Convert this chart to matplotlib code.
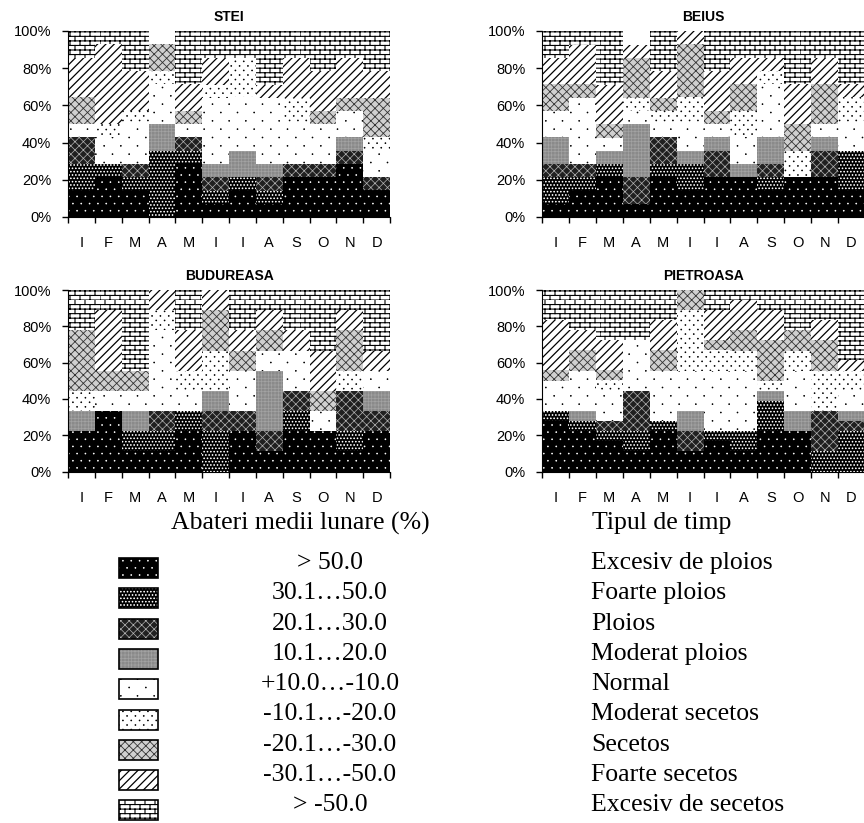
import warnings
import numpy as np
import matplotlib
matplotlib.use("Agg")
import matplotlib.pyplot as plt
import matplotlib.hatch as mhatch
from matplotlib.path import Path
from matplotlib.patches import Rectangle

warnings.filterwarnings("ignore")

months = ['I', 'F', 'M', 'A', 'M', 'I', 'I', 'A', 'S', 'O', 'N', 'D']
ranges = ['> 50.0', '30.1\u202650.0', '20.1\u202630.0', '10.1\u202620.0',
          '+10.0\u2026-10.0', '-10.1\u2026-20.0', '-20.1\u2026-30.0',
          '-30.1\u2026-50.0', '> -50.0']
types = ['Excesiv de ploios', 'Foarte ploios', 'Ploios', 'Moderat ploios',
         'Normal', 'Moderat secetos', 'Secetos', 'Foarte secetos',
         'Excesiv de secetos']

# one row per month, columns in the order of the classes above (%)
stei = [
    [14.3, 14.3, 14.3, 0, 7.1, 0, 14.3, 21.4, 14.3],
    [21.4, 7.1, 0, 0, 14.3, 7.1, 0, 42.9, 7.1],
    [14.3, 7.1, 7.1, 0, 21.4, 7.1, 0, 21.4, 21.4],
    [0, 35.7, 0, 14.3, 21.4, 7.1, 14.3, 0, 0],
    [28.6, 7.1, 7.1, 0, 7.1, 0, 7.1, 14.3, 28.6],
    [7.1, 7.1, 7.1, 7.1, 35.7, 7.1, 0, 14.3, 14.3],
    [14.3, 7.1, 0, 14.3, 28.6, 21.4, 0, 0, 14.3],
    [7.1, 7.1, 7.1, 7.1, 35.7, 0, 0, 7.1, 28.6],
    [21.4, 0, 7.1, 0, 21.4, 14.3, 0, 21.4, 14.3],
    [21.4, 0, 7.1, 0, 21.4, 0, 7.1, 21.4, 21.4],
    [28.6, 0, 7.1, 7.1, 14.3, 0, 7.1, 21.4, 14.3],
    [14.3, 0, 7.1, 0, 14.3, 7.1, 21.4, 14.3, 21.4],
]
beius = [
    [7.1, 14.3, 7.1, 14.3, 14.3, 0, 14.3, 14.3, 14.3],
    [14.3, 7.1, 7.1, 0, 35.7, 0, 7.1, 21.4, 7.1],
    [21.4, 7.1, 0, 7.1, 7.1, 0, 7.1, 21.4, 28.6],
    [7.1, 0, 14.3, 28.6, 7.1, 7.1, 21.4, 7.1, 0],
    [21.4, 7.1, 14.3, 0, 7.1, 7.1, 7.1, 14.3, 21.4],
    [14.3, 14.3, 0, 7.1, 14.3, 14.3, 28.6, 7.1, 0],
    [21.4, 0, 14.3, 7.1, 7.1, 0, 7.1, 21.4, 21.4],
    [21.4, 0, 0, 7.1, 14.3, 14.3, 14.3, 14.3, 14.3],
    [14.3, 7.1, 7.1, 14.3, 28.6, 7.1, 0, 7.1, 14.3],
    [21.4, 0, 0, 0, 0, 14.3, 14.3, 21.4, 28.6],
    [21.4, 0, 14.3, 7.1, 7.1, 0, 21.4, 14.3, 14.3],
    [14.3, 21.4, 0, 0, 14.3, 14.3, 0, 7.1, 28.6],
]
budureasa = [
    [22.2, 0, 0, 11.1, 0, 11.1, 33.3, 0, 22.2],
    [33.3, 0, 0, 0, 11.1, 0, 11.1, 33.3, 11.1],
    [11.1, 11.1, 0, 11.1, 11.1, 0, 11.1, 0, 44.4],
    [11.1, 11.1, 11.1, 0, 44.4, 11.1, 0, 11.1, 0],
    [22.2, 11.1, 0, 0, 11.1, 11.1, 0, 22.2, 22.2],
    [0, 22.2, 11.1, 11.1, 0, 22.2, 22.2, 11.1, 0],
    [22.2, 0, 11.1, 0, 22.2, 0, 11.1, 11.1, 22.2],
    [11.1, 0, 11.1, 33.3, 11.1, 0, 11.1, 11.1, 11.1],
    [22.2, 11.1, 11.1, 0, 22.2, 0, 0, 11.1, 22.2],
    [22.2, 0, 0, 0, 11.1, 0, 11.1, 22.2, 33.3],
    [11.1, 11.1, 22.2, 0, 0, 11.1, 22.2, 11.1, 11.1],
    [22.2, 0, 11.1, 11.1, 11.1, 0, 0, 11.1, 33.3],
]
pietroasa = [
    [27.8, 5.6, 0, 0, 16.7, 0, 5.6, 27.8, 16.7],
    [22.2, 5.6, 0, 5.6, 22.2, 0, 11.1, 11.1, 22.2],
    [16.7, 5.6, 5.6, 0, 16.7, 5.6, 5.6, 16.7, 27.8],
    [11.1, 11.1, 22.2, 0, 27.8, 0, 0, 0, 27.8],
    [22.2, 5.6, 0, 0, 27.8, 0, 11.1, 16.7, 16.7],
    [11.1, 0, 11.1, 11.1, 22.2, 33.3, 11.1, 0, 0],
    [16.7, 5.6, 0, 0, 33.3, 11.1, 5.6, 16.7, 11.1],
    [11.1, 11.1, 0, 0, 33.3, 11.1, 11.1, 16.7, 5.6],
    [22.2, 16.7, 0, 5.6, 0, 5.6, 22.2, 16.7, 11.1],
    [22.2, 0, 0, 11.1, 22.2, 11.1, 11.1, 0, 22.2],
    [0, 11.1, 22.2, 0, 0, 22.2, 16.7, 11.1, 16.7],
    [0, 22.2, 5.6, 5.6, 11.1, 11.1, 0, 5.6, 38.9],
]


# brick pattern, not available among the built-in hatches
class BrickHatch(mhatch.HatchPatternBase):
    def __init__(self, hatch, density):
        n = hatch.count('b')
        self.rows = 22 * n
        self.cols = 10 * n
        self.num_vertices = self.rows * (2 + 2 * self.cols) if n else 0

    def set_vertices_and_codes(self, vertices, codes):
        k = 0
        for r in range(self.rows):
            y0 = r / self.rows
            y1 = (r + 1) / self.rows
            vertices[k] = (0, y0)
            vertices[k + 1] = (1, y0)
            codes[k] = Path.MOVETO
            codes[k + 1] = Path.LINETO
            k += 2
            shift = 0.5 * (r % 2)
            for c in range(self.cols):
                x = (c + shift) / self.cols
                vertices[k] = (x, y0)
                vertices[k + 1] = (x, y1)
                codes[k] = Path.MOVETO
                codes[k + 1] = Path.LINETO
                k += 2


# small staggered dots with their own spacing (tile = 1 inch)
def dot_hatch(char, nx, ny, r):
    class DotHatch(mhatch.HatchPatternBase):
        def __init__(self, hatch, density):
            circle = Path.unit_circle()
            self.cv = circle.vertices * r
            self.cc = circle.codes
            self.num_vertices = nx * ny * len(self.cv) if char in hatch else 0

        def set_vertices_and_codes(self, vertices, codes):
            m = len(self.cv)
            k = 0
            for j in range(ny):
                for i in range(nx):
                    cx = (i + 0.25 + 0.5 * (j % 2)) / nx
                    cy = (j + 0.5) / ny
                    vertices[k:k + m] = self.cv + (cx, cy)
                    codes[k:k + m] = self.cc
                    k += m
    return DotHatch


mhatch._hatch_types.append(BrickHatch)
mhatch._hatch_types.append(dot_hatch('e', 12, 14, 0.005))   # black, white dots
mhatch._hatch_types.append(dot_hatch('f', 30, 30, 0.005))   # dense dots
mhatch._hatch_types.append(dot_hatch('n', 6, 12, 0.005))    # sparse dots
mhatch._hatch_types.append(dot_hatch('m', 12, 22, 0.005))   # medium dots

plt.rcParams['hatch.linewidth'] = 0.6
plt.rcParams['font.family'] = ['Liberation Sans', 'DejaVu Sans']

# face colour, hatch, hatch colour, hatch line width for each class
styles = [
    ('black', 'e', 'white', 0.5),
    ('black', 'f', 'white', 0.5),
    ('#202020', 'xxxx', '#b4b4b4', 0.5),
    ('#8a8a8a', '+++++', '#a2a2a2', 0.5),
    ('white', 'n', 'black', 0.5),
    ('white', 'm', 'black', 0.5),
    ('#d0d0d0', 'xxxx', '#333333', 0.6),
    ('white', '////', 'black', 0.9),
    ('white', 'b', 'black', 0.8),
]


def set_hatch_lw(patch, lw):
    if hasattr(patch, 'set_hatch_linewidth'):
        patch.set_hatch_linewidth(lw)


W, H = 864, 823
fig = plt.figure(figsize=(W / 100, H / 100), dpi=100)


def panel(rect, data, title):
    ax = fig.add_axes(rect)
    vals = np.array(data, dtype=float).T
    x = np.arange(len(months))
    bottom = np.zeros(len(months))
    for v, (fc, h, hc, hlw) in zip(vals, styles):
        bars = ax.bar(x, v, width=1.0, bottom=bottom, color=fc, edgecolor=hc,
                      hatch=h, linewidth=0)
        for b in bars:
            set_hatch_lw(b, hlw)
        bottom += v
    ax.set_xlim(-0.5, len(months) - 0.5)
    ax.set_ylim(0, 100)
    ax.set_yticks(range(0, 101, 20))
    ax.set_yticklabels([f'{t}%' for t in range(0, 101, 20)], fontsize=10.5)
    ax.set_xticks(x)
    ax.set_xticklabels(months, fontsize=10.5)
    ax.set_xticks(np.arange(-0.5, len(months)), minor=True)
    ax.tick_params(axis='x', which='major', length=0, pad=14)
    ax.tick_params(axis='x', which='minor', length=4, width=1, direction='out')
    ax.tick_params(axis='y', length=4, width=1, direction='out', pad=8)
    for s in ['top', 'right']:
        ax.spines[s].set_visible(False)
    ax.set_title(title, fontsize=10, fontweight='bold', pad=7)
    return ax


def frac(x0, x1, ytop, ybot):
    return [x0 / W, 1 - ybot / H, (x1 - x0) / W, (ybot - ytop) / H]


panel(frac(68, 390, 31, 217), stei, 'STEI')
panel(frac(542, 865, 31, 217), beius, 'BEIUS')
panel(frac(68, 390, 290, 471.5), budureasa, 'BUDUREASA')
panel(frac(542, 865, 290, 471.5), pietroasa, 'PIETROASA')

# legend table below the charts, laid out in pixel units
leg = fig.add_axes([0, 0, 1, 1], zorder=-1)
leg.set_xlim(0, W)
leg.set_ylim(H, 0)
leg.axis('off')
serif = dict(family=['Liberation Serif', 'DejaVu Serif'], fontsize=18.5)
leg.text(300, 523, 'Abateri medii lunare (%)', ha='center', va='center', **serif)
leg.text(592, 523, 'Tipul de timp', ha='left', va='center', **serif)
for k, ((fc, h, hc, hlw), r, t) in enumerate(zip(styles, ranges, types)):
    yc = 568 + 30.3 * k
    sw = Rectangle((119, yc - 10), 39, 20, facecolor=fc, edgecolor=hc,
                   hatch=h, linewidth=0)
    set_hatch_lw(sw, hlw)
    leg.add_patch(sw)
    leg.add_patch(Rectangle((119, yc - 10), 39, 20, fill=False,
                            edgecolor='black', linewidth=1.2))
    leg.text(330, yc - 5, r, ha='center', va='center', **serif)
    leg.text(591, yc - 5, t, ha='left', va='center', **serif)

fig.savefig('out.png', dpi=100)
